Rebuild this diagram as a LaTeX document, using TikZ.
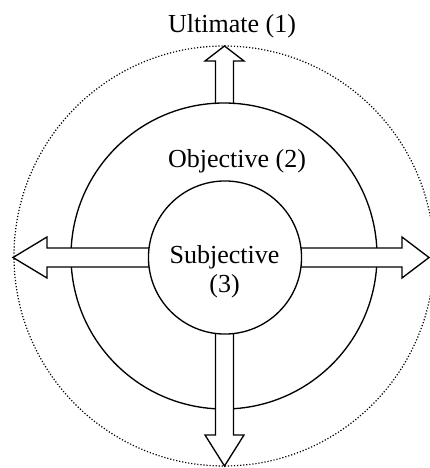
\documentclass[tikz,border=0pt]{standalone}
\usepackage{fontspec}
\setmainfont{Liberation Serif}
\begin{document}
\begin{tikzpicture}[x=0.75pt,y=-0.75pt,
  ring/.style={draw=black,line width=1pt},
  dotring/.style={draw=black,line width=0.9pt,dash pattern=on 0.9pt off 1.4pt},
  fatarrow/.style={draw=black,fill=white,line width=1pt,line join=miter},
  lbl/.style={font=\fontsize{19.5}{22}\selectfont,inner sep=0pt,anchor=base}]
\useasboundingbox (0,0) rectangle (429,468);
% outer dotted circle
\draw[dotring] (224,256) circle[radius=157.5pt];
% up arrow (from middle circle to dotted circle)
\path[fatarrow] (215.5,104) -- (215.5,61) -- (205,61) -- (224.5,46) -- (244,61) -- (233.5,61) -- (233.5,104);
% middle circle
\draw[ring] (224,256) circle[radius=114.75pt];
% left arrow
\path[fatarrow] (225,248) -- (47,248) -- (47,237) -- (13,257.5) -- (47,278) -- (47,267) -- (225,267);
% right arrow
\path[fatarrow] (225,248) -- (402,248) -- (402,237) -- (429,257.5) -- (402,278) -- (402,267) -- (225,267);
% down arrow
\path[fatarrow] (215.5,257) -- (215.5,435) -- (205,435) -- (224.5,466) -- (244,435) -- (233.5,435) -- (233.5,257);
% inner circle
\draw[ring,fill=white] (225,257.5) circle[radius=57.4pt];
% labels
\node[lbl] (ult) at (232,32) {Ultimate (1)};
\node[lbl] (obj) at (237,167) {Objective (2)};
\node[lbl] (sub) at (224.5,263) {Subjective};
\node[lbl] (three) at (224.5,292) {(3)};
\end{tikzpicture}
\end{document}
